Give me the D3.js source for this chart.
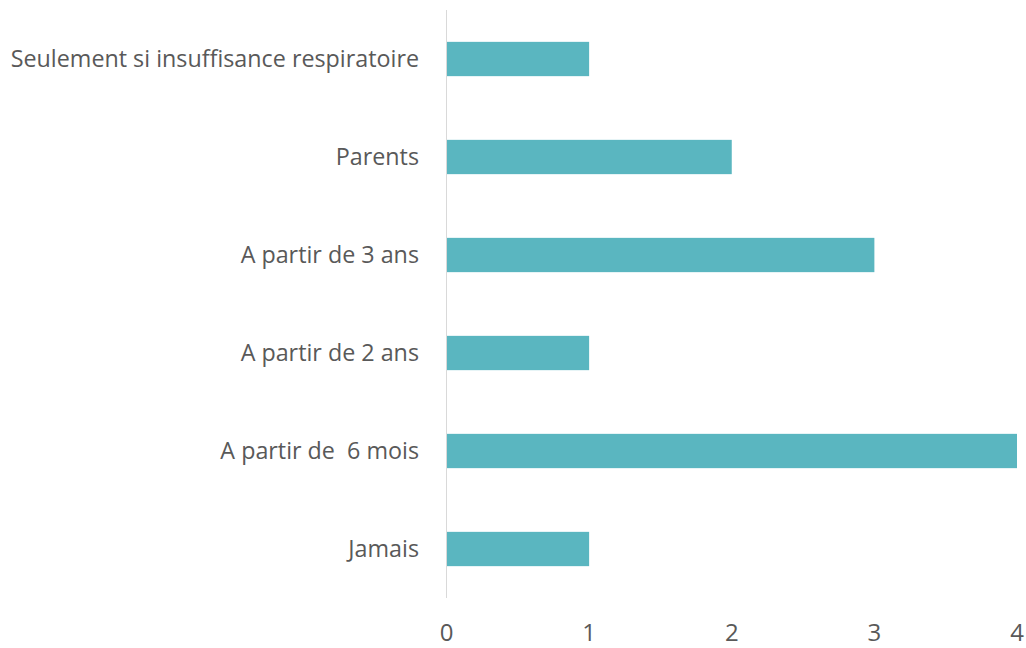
<!DOCTYPE html>
<html>
<head>
<meta charset="utf-8">
<script src="https://cdn.jsdelivr.net/npm/d3@7"></script>
<style>
  body { margin: 0; background: white; }
  svg text { font-family: "Open Sans", Lato, sans-serif; fill: #595959; white-space: pre; }
</style>
</head>
<body>
<svg id="svg" width="1026" height="648"></svg>
<script>
// categories top to bottom
var categories = ["Seulement si insuffisance respiratoire", "Parents", "A partir de 3 ans",
  "A partir de 2 ans", "A partir de  6 mois", "Jamais"];
var values = [1, 2, 3, 1, 4, 1];
var ticks = [0, 1, 2, 3, 4];

var barColor = "#5AB6C0";
const svg = d3.select('#svg');

var x = d3.scaleLinear().domain([0, 4]).range([446.5, 1017]);
var y = d3.scaleBand().domain(categories).range([10, 598])
  .paddingInner(0.65).paddingOuter(0.325);

// vertical axis line
svg.append("line")
  .attr("x1", x(0)).attr("x2", x(0))
  .attr("y1", 10).attr("y2", 598)
  .style("stroke", "#d9d9d9")
  .style("stroke-width", 1);

svg.selectAll("rect.bar")
  .data(values)
  .enter().append("rect")
  .attr("class", "bar")
  .attr("x", x(0) + 0.5)
  .attr("y", (d, i) => y(categories[i]))
  .attr("width", d => x(d) - x(0) - 0.5)
  .attr("height", y.bandwidth())
  .style("fill", barColor);

// category labels
svg.selectAll("text.cat")
  .data(categories)
  .enter().append("text")
  .attr("class", "cat")
  .attr("x", 419)
  .attr("y", d => y(d) + y.bandwidth() / 2)
  .attr("dy", "0.35em")
  .attr("text-anchor", "end")
  .style("font-size", "23.3px")
  .text(d => d);

// value axis labels
svg.selectAll("text.tick")
  .data(ticks)
  .enter().append("text")
  .attr("class", "tick")
  .attr("x", d => x(d))
  .attr("y", 633)
  .attr("dy", "0.35em")
  .attr("text-anchor", "middle")
  .style("font-size", "24px")
  .text(d => d);
</script>
</body>
</html>
